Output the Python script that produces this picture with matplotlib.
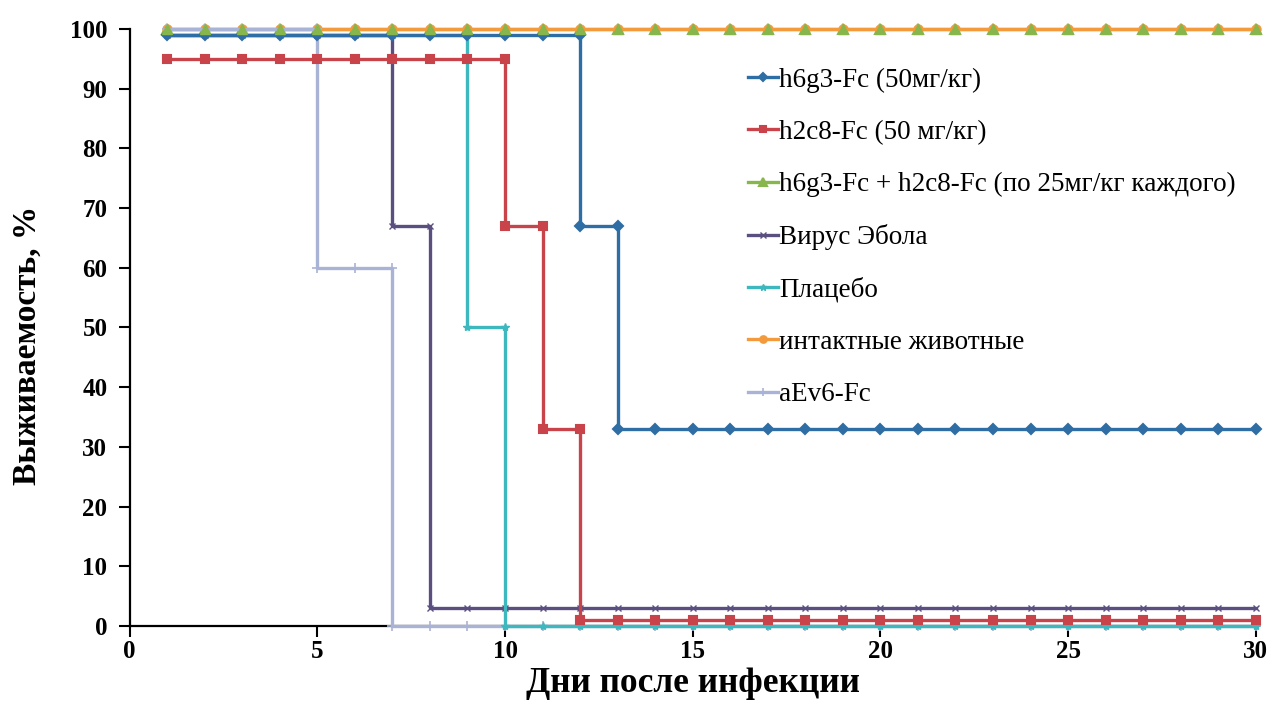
import numpy as np
import matplotlib
matplotlib.use("Agg")
import matplotlib.pyplot as plt

plt.rcParams['font.family'] = ['Liberation Serif', 'DejaVu Serif']

# дни наблюдения
days = list(range(1, 31))

# выживаемость по дням, %
h6g3 = [99] * 11 + [67] + [33] * 18
h2c8 = [95] * 9 + [67, 33] + [1] * 19
combo = [100] * 30
ebola = [99] * 6 + [67] + [3] * 23
placebo = [99] * 8 + [50] + [0] * 21
intact = [100] * 30
aev6 = [100] * 4 + [60, 60] + [0] * 24

labels = ["h6g3-Fc (50мг/кг)", "h2c8-Fc (50 мг/кг)",
          "h6g3-Fc + h2c8-Fc (по 25мг/кг каждого)", "Вирус Эбола",
          "Плацебо", "интактные животные", "aEv6-Fc"]
series = [h6g3, h2c8, combo, ebola, placebo, intact, aev6]
colors = ["#2F6EA5", "#C9434B", "#86B64C", "#5B4F80", "#3DB8BE", "#F39A3C", "#A9B3D6"]
markers = ["D", "s", "^", "x", "*", "o", "+"]
msizes = [5, 6, 7, 5, 6, 6, 7]
mews = [1.5, 1.5, 1.5, 1.0, 1.0, 1.5, 1.2]
zorders = [6, 5, 2, 4, 4, 3, 3.5]


def step_points(x, y):
    # как в Excel: при падении ставим точку дважды (старое и новое значение)
    xs, ys = [x[0]], [y[0]]
    for i in range(1, len(x)):
        if y[i] != y[i - 1]:
            xs.append(x[i])
            ys.append(y[i - 1])
        xs.append(x[i])
        ys.append(y[i])
    return xs, ys


fig = plt.figure(figsize=(12.71, 7.22), dpi=100)
ax = fig.add_axes([0.102, 0.133, 0.886, 0.827])

for vals, lab, c, m, ms, mw, z in zip(series, labels, colors, markers, msizes, mews, zorders):
    xs, ys = step_points(days, vals)
    ax.plot(xs, ys, color=c, lw=2.4, marker=m, markersize=ms, mew=mw,
            label=lab, zorder=z, clip_on=False)

# треугольники комбинации поверх оранжевой линии
ax.plot(days, combo, ls="none", marker="^", markersize=7, color=colors[2],
        zorder=9, clip_on=False)

ax.set_xlim(0, 30)
ax.set_ylim(0, 100)
ax.set_xticks(range(0, 31, 5))
ax.set_yticks(range(0, 101, 10))
for s in ["top", "right"]:
    ax.spines[s].set_visible(False)
for s in ["left", "bottom"]:
    ax.spines[s].set_linewidth(1.6)
ax.tick_params(direction="out", length=8, width=1.5, labelsize=18)
ax.tick_params(axis="y", pad=8)
ax.tick_params(axis="x", pad=2)
for t in ax.get_xticklabels() + ax.get_yticklabels():
    t.set_fontweight("bold")

ax.set_xlabel("Дни после инфекции", fontsize=25.5, fontweight="bold", labelpad=3)
ax.set_ylabel("Выживаемость, %", fontsize=24, fontweight="bold")
ax.yaxis.set_label_coords(-0.077, 0.47)

ax.legend(loc="upper left", bbox_to_anchor=(0.549, 0.935), frameon=False,
          fontsize=19.5, labelspacing=1.0, handlelength=1.1, handletextpad=0.05,
          borderaxespad=0, borderpad=0, markerscale=0.8)

plt.savefig("out.png", dpi=100)
